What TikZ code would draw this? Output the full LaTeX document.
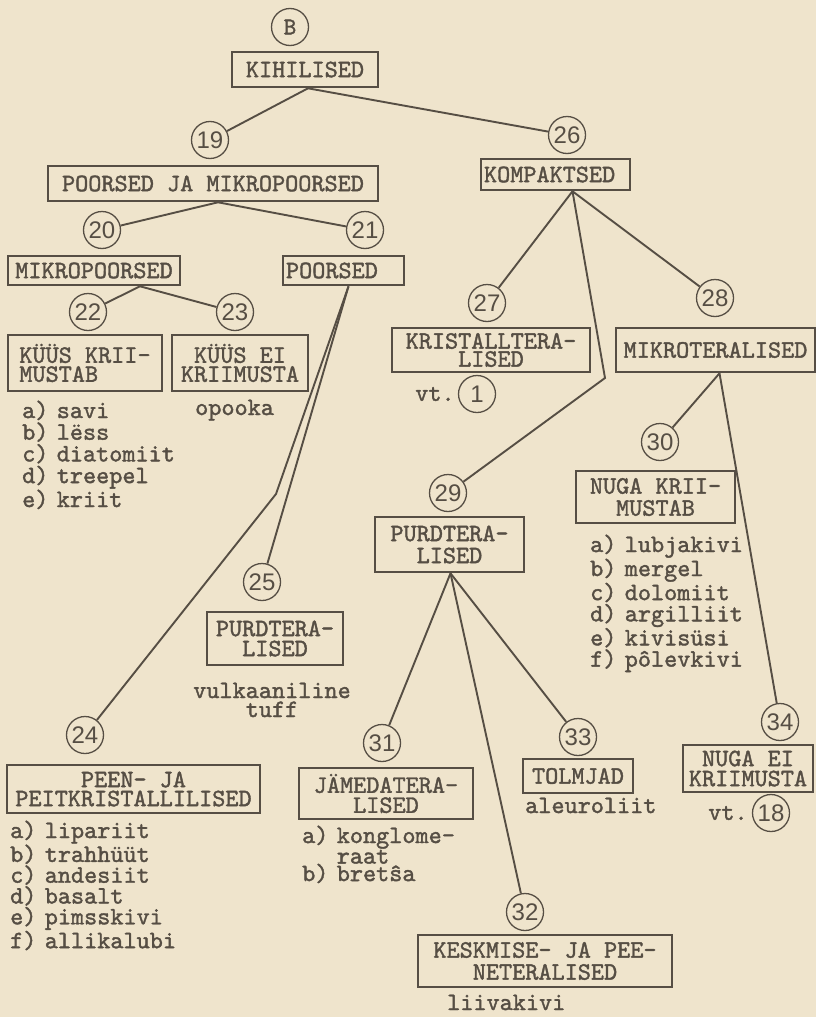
\documentclass[tikz,border=0pt]{standalone}
\usepackage{fontspec}
\usetikzlibrary{positioning}
\newfontfamily\typew{lmmono10-regular.otf}[FakeBold=1.5]
\newfontfamily\digits{Liberation Sans}
\definecolor{paper}{RGB}{239,228,204}
\definecolor{ink}{RGB}{86,78,68}
\tikzset{
  lead/.style={font=\typew\fontsize{25}{#1}\selectfont},
  lead/.default=20,
  box/.style={draw, line width=2.6pt, inner xsep=3pt, inner ysep=0pt, align=center, lead=19},
  num/.style={circle, draw, line width=1.3pt, minimum size=37pt, inner sep=0pt, font=\digits\fontsize{24}{24}\selectfont},
  list/.style={anchor=base west, inner sep=0pt, text width=260pt, align=left, lead=#1},
  note/.style={inner sep=0pt, lead},
  conn/.style={line width=1.9pt},
}

\begin{document}
\begin{tikzpicture}[x=1pt, y=-1pt, color=ink]
	\useasboundingbox (0,0) rectangle (816,1017);
	\fill [paper] (0,0) rectangle (816,1017);

	% left half
	\node (B) [num, font=\typew\fontsize{24}{24}\selectfont] at (290,27) {B};
	\node (kihilised) [box, minimum width=146pt, minimum height=35pt] at (305,69.5) {KIHILISED};
	\node (19) [num] at (210,140) {19};
	\node (poorsedja) [box, minimum width=330pt, minimum height=35pt] at (213,183.5) {POORSED JA MIKROPOORSED};
	\node (20) [num] at (102,230) {20};
	\node (21) [num] at (365,230) {21};
	\node (mikropoorsed) [box, minimum width=172pt, minimum height=29pt] at (94,270.5) {MIKROPOORSED};
	\node (poorsed) [box, text width=115pt, align=left, minimum height=29pt] at (343.5,270.5) {POORSED};
	\node (22) [num] at (88,312) {22};
	\node (23) [num] at (235,312) {23};
	\node (kyyskr) [box, align=left, minimum width=154pt, minimum height=56pt] at (85,363) {KÜÜS KRII-\\MUSTAB};
	\node (kyysei) [box, minimum width=136pt, minimum height=56pt] at (240,363) {KÜÜS EI\\KRIIMUSTA};
	\node (list22) [list=21.7] at (22,418) {a) savi\\b) lëss\\c) diatomiit\\d) treepel\\e) kriit};
	\node (opooka) [list=20] at (195,415) {opooka};
	\node (25) [num] at (262,582) {25};
	\node (purd25) [box, lead=20, minimum width=136pt, minimum height=53pt] at (275,638.5) {PURDTERA-\\LISED};
	\node (tuff) [list=19, align=center, text width=170pt, anchor=base] at (272,698) {vulkaaniline\\tuff};
	\node (24) [num] at (85,735) {24};
	\node (peen) [box, minimum width=253pt, minimum height=48pt] at (133.5,789) {PEEN- JA\\PEITKRISTALLILISED};
	\node (list24) [list=20.8] at (10,838) {a) lipariit\\b) trahhüüt\\c) andesiit\\d) basalt\\e) pimsskivi\\f) allikalubi};

	% right half
	\node (26) [num] at (567,135) {26};
	\node (kompaktsed) [box, text width=143pt, align=left, minimum height=31pt] at (555.5,174.5) {KOMPAKTSED};
	\node (27) [num] at (487,303) {27};
	\node (28) [num] at (715,298) {28};
	\node (kristall) [box, lead=18, minimum width=198pt, minimum height=44pt] at (491,350) {KRISTALLTERA-\\LISED};
	\node (mikroter) [box, minimum width=199pt, minimum height=44pt] at (715.5,350) {MIKROTERALISED};
	\node (1) [num] at (477,394) {1};
	\node (vt1) [note, left=3pt of 1] {vt.};
	\node (30) [num] at (660,442) {30};
	\node (nugakr) [box, lead=22, minimum width=159pt, minimum height=52pt] at (655.5,497) {NUGA KRII-\\MUSTAB};
	\node (list30) [list=21.2] at (590,552) {a) lubjakivi\\b) mergel\\c) dolomiit\\d) argilliit\\e) kivisüsi\\f) pôlevkivi};
	\node (29) [num] at (448,493) {29};
	\node (purd29) [box, lead=22, minimum width=149pt, minimum height=55pt] at (449.5,544.5) {PURDTERA-\\LISED};
	\node (31) [num] at (382,743) {31};
	\node (jamed) [box, lead=20, minimum width=174pt, minimum height=51pt] at (386,793.5) {JÄMEDATERA-\\LISED};
	\node (list31) [list=17.5] at (302,843) {a) konglome-\\\hphantom{a) }raat\\b) bretŝa};
	\node (33) [num] at (578,737) {33};
	\node (tolmjad) [box, minimum width=110pt, minimum height=34pt] at (578,776) {TOLMJAD};
	\node (aleuroliit) [list=20] at (525,813) {aleuroliit};
	\node (32) [num] at (525,912) {32};
	\node (keskmise) [box, lead=22, minimum width=254pt, minimum height=52pt] at (545,961) {KESKMISE- JA PEE-\\NETERALISED};
	\node (liivakivi) [list=20] at (447,1010) {liivakivi};
	\node (34) [num] at (780,722) {34};
	\node (nugaei) [box, lead=20, minimum width=130pt, minimum height=47pt] at (748,768.5) {NUGA EI\\KRIIMUSTA};
	\node (18) [num] at (771,813) {18};
	\node (vt18) [note, left=4pt of 18] {vt.};

	\coordinate (kink1) at (276,494);
	\coordinate (kink2) at (605,378);

	\path [conn]
	([xshift=3pt]kihilised.south) edge (19) edge (26)
	([xshift=5pt]poorsedja.south) edge (20) edge (21)
	([xshift=46pt]mikropoorsed.south) edge (22) edge (23)
	([xshift=5pt]poorsed.south) edge (25)
	([xshift=17pt]kompaktsed.south) edge (27) edge (28)
	([xshift=4pt]mikroter.south) edge (30) edge (34)
	([xshift=1pt]purd29.south) edge (31) edge (32) edge (33)
	;
	\draw [conn] ([xshift=5pt]poorsed.south) -- (kink1) -- (24);
	\draw [conn] ([xshift=17pt]kompaktsed.south) -- (kink2) -- (29);
\end{tikzpicture}
\end{document}
